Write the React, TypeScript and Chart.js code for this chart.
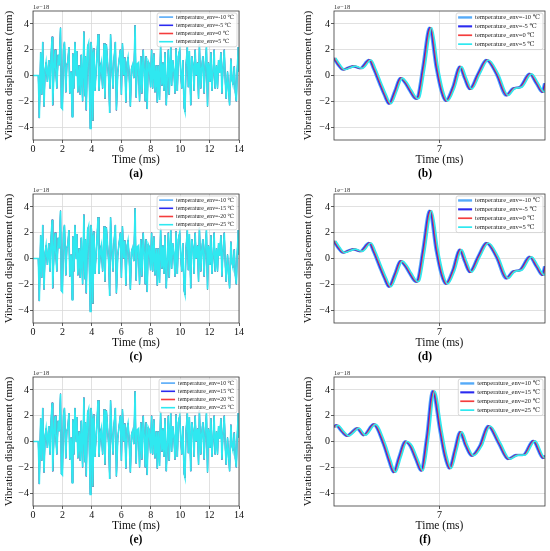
import { useEffect, useRef } from 'react';
import { Chart, registerables } from 'chart.js';

Chart.register(...registerables);

const FONT = '"Liberation Serif", "Times New Roman", "DejaVu Serif", serif';

// Full record, 0-14 ms (units of 1e-18 mm). The four temperature curves overlap here.
const longTime = [
  0, 0.36, 0.43, 0.52, 0.59, 0.66, 0.75, 0.82, 0.89, 0.98, 1.07, 1.16, 1.23, 1.3, 1.34, 1.43, 1.5, 1.56,
  1.62, 1.71, 1.78, 1.87, 1.93, 2.0, 2.07, 2.14, 2.23, 2.3, 2.37, 2.44, 2.5, 2.59, 2.66, 2.71, 2.78, 2.85,
  2.94, 2.98, 3.05, 3.14, 3.21, 3.28, 3.37, 3.46, 3.53, 3.57, 3.62, 3.71, 3.78, 3.85, 3.89, 3.94, 4.01,
  4.07, 4.14, 4.21, 4.28, 4.35, 4.42, 4.48, 4.58, 4.64, 4.73, 4.83, 4.89, 4.99, 5.08, 5.15, 5.21, 5.27,
  5.35, 5.44, 5.51, 5.6, 5.67, 5.76, 5.83, 5.94, 6.01, 6.08, 6.17, 6.24, 6.31, 6.4, 6.46, 6.53, 6.62,
  6.69, 6.76, 6.85, 6.94, 7.01, 7.08, 7.17, 7.24, 7.33, 7.4, 7.49, 7.56, 7.63, 7.69, 7.76, 7.83, 7.9,
  7.99, 8.06, 8.13, 8.22, 8.29, 8.38, 8.45, 8.51, 8.6, 8.67, 8.76, 8.83, 8.9, 8.97, 9.06, 9.13, 9.2,
  9.26, 9.36, 9.42, 9.49, 9.58, 9.65, 9.72, 9.81, 9.88, 9.97, 10.04, 10.11, 10.18, 10.27, 10.33, 10.4,
  10.49, 10.56, 10.63, 10.72, 10.79, 10.88, 10.95, 11.02, 11.09, 11.18, 11.25, 11.31, 11.4, 11.47,
  11.54, 11.63, 11.7, 11.79, 11.86, 11.93, 12.02, 12.09, 12.16, 12.25, 12.31, 12.38, 12.47, 12.54,
  12.61, 12.68, 12.77, 12.84, 12.91, 13.0, 13.07, 13.13, 13.22, 13.29, 13.36, 13.45, 13.52, 13.59,
  13.68, 13.75, 13.82, 13.88, 13.95, 14.0,
];
const longDisp = [
  0, 0, -3.3, 1.8, -1.5, 2.6, -2.4, 0.4, 1.0, -0.5, 1.2, -1.0, 1.6, 3.0, -2.3, 0.5, 2.0, 0.2,
  -1.0, 1.6, 0.8, 3.7, -2.5, -2.6, 2.0, 2.6, -1.3, 0.8, 1.1, 2.2, -1.4, 0.3, -3.2, 1.7, -1.0, 2.6,
  0.0, 1.9, -1.3, 0.8, -1.5, 1.6, -2.0, 3.4, -1.6, 1.5, -2.7, 2.2, 2.5, -1.8, -4.1, 2.6, 1.8,
  -3.5, 2.1, -1.2, 0.2, 1.6, 3.2, -1.2, 0.6, 1.0, -1.0, 2.5, -1.8, 2.4, 0.8, -0.4, -2.9, 3.2,
  0.8, -1.0, 1.3, 2.6, -2.7, 0.2, 1.0, 2.0, -1.5, 2.5, 0.0, 1.4, -2.1, 1.0, 1.4, 0.2, -2.4,
  0.5, 0.8, -0.2, 3.9, -1.7, 0.9, 1.0, -2.0, 1.5, -1.4, 2.0, 0.4, -2.0, 1.5, -2.6, 1.1, 0.9,
  -0.9, 2.0, -1.0, 1.7, -1.3, 0.8, -2.1, 0.8, -1.9, 2.3, -0.8, 1.0, -1.2, 1.8, -2.3, 0.0, 2.0,
  -1.5, 2.2, -0.8, 1.2, 0.3, -1.4, 2.1, -1.2, 1.5, 2.0, 0.2, -1.0, 1.2, -2.5, -2.8, 0.8,
  2.2, -0.9, 1.9, -2.3, 1.5, 0.8, -1.2, 2.0, 0.0, 1.0, -1.8, 2.4, -1.0, 0.6,
  1.5, -1.4, 0.8, 2.2, -2.4, 1.0, -0.5, 1.8, -1.2, 0.5, 2.0, -1.0, 0.8, -1.0,
  1.2, 0.2, 1.8, -1.4, 0.5, 2.0, -0.5, -1.8, 0.3, -1.0, -2.3, 1.3, -0.3, -0.7,
  0.7, -1.3, -2.0, 0.4, 2.2, 0.3,
];

// Close-up around 7 ms, panels (b) and (d)
const zoomTimeBD = [
  6.5, 6.52, 6.544, 6.57, 6.592, 6.626, 6.668, 6.69, 6.718, 6.74, 6.762, 6.79, 6.816, 6.84, 6.86, 6.89,
  6.9, 6.923, 6.955, 6.986, 7.01, 7.031, 7.065, 7.097, 7.12, 7.145, 7.184, 7.224, 7.271, 7.318, 7.35,
  7.382, 7.429, 7.46, 7.489, 7.5,
];
const zoomDispBD = [
  1.36, 0.85, 0.46, 0.6, 0.72, 0.56, 1.2, 0.5, -0.64, -1.5, -2.18, -1.2, -0.2, -0.6, -1.15, -1.8,
  -1.6, 0.64, 3.7, 0.64, -1.2, -1.97, -0.9, 0.69, -0.2, -1.05, 0.13, 1.2, 0.13, -1.54, -1.0,
  -0.9, 0.13, -0.6, -1.28, -0.6,
];

// Close-up around 7 ms, panel (f)
const zoomTimeF = [
  6.5, 6.512, 6.535, 6.563, 6.585, 6.61, 6.642, 6.689, 6.736, 6.76, 6.784, 6.81, 6.838, 6.862, 6.89,
  6.914, 6.941, 6.969, 7.004, 7.025, 7.048, 7.075, 7.098, 7.125, 7.154, 7.193, 7.232, 7.28, 7.327,
  7.366, 7.398, 7.445, 7.492, 7.5,
];
const zoomDispF = [
  1.13, 1.26, 0.85, 0.44, 0.7, 1.03, 0.49, 1.33, -0.2, -1.4, -2.38, -1.2, 0.0, -0.33, -1.4,
  -2.26, 0.31, 3.9, 0.82, -1.0, -2.08, -0.6, 0.74, -0.3, -1.1, -0.33, 1.2, -0.08, -1.36,
  -1.05, -1.05, 0.05, -1.28, -1.1,
];

// time lag of each temperature curve in the close-ups (ms)
const zoomLagMs = [-0.004, 0, 0.004, 0.008];
const longLagMs = [0, 0, 0, 0];

const labelsA = ['temperature_env=-10 ℃', 'temperature_env=-5 ℃', 'temperature_env=0 ℃', 'temperature_env=5 ℃'];
const labelsC = ['temperature_env=-10 ℃', 'temperature_env=-15 ℃', 'temperature_env=-20 ℃', 'temperature_env=-25 ℃'];
const labelsE = ['temperature_env=10 ℃', 'temperature_env=15 ℃', 'temperature_env=20 ℃', 'temperature_env=25 ℃'];

const longTicks = [0, 2, 4, 6, 8, 10, 12, 14];
const zoomTicks = [7];
const yTicks = [-4, -2, 0, 2, 4];

const seriesColors = ['#55aaf8', '#2a2af0', '#f43d3d', '#2fe8f0'];
const longWidths = [0.8, 0.8, 0.8, 1.6];
const zoomWidths = [2.4, 2.1, 1.7, 1.7];

const CELL_W = 275;
const CELL_H = 183;

interface PanelProps {
  row: number;
  col: number;
  caption: string;
  times: number[];
  disp: number[];
  lags: number[];
  labels: string[];
  xMin: number;
  xMax: number;
  xTicks: number[];
  widths: number[];
  smooth: boolean;
}

function Panel({ row, col, caption, times, disp, lags, labels, xMin, xMax, xTicks, widths, smooth }: PanelProps) {
  const canvasRef = useRef<HTMLCanvasElement>(null);

  useEffect(() => {
    if (!canvasRef.current) return;
    const left = col === 0;

    // frame, 1e-18 offset text, legend inside the axes and the (a)..(f) caption
    const decor = {
      id: 'panelDecor',
      afterDatasetsDraw(chart: any) {
        const { ctx, chartArea: a } = chart;
        ctx.save();
        ctx.strokeStyle = '#3a3a3a';
        ctx.lineWidth = 0.8;
        ctx.strokeRect(a.left, a.top, a.right - a.left, a.bottom - a.top);

        ctx.fillStyle = '#333';
        ctx.font = `6.5px ${FONT}`;
        ctx.textAlign = 'left';
        ctx.textBaseline = 'alphabetic';
        ctx.fillText('1e−18', a.left, a.top - 2);

        const fs = left ? 5.8 : 6.5;
        const rowH = left ? 8.2 : 8.9;
        ctx.font = `${fs}px ${FONT}`;
        const tw = Math.max(...labels.map((l) => ctx.measureText(l).width));
        const w = 19 + tw + 3;
        const h = rowH * 4 + 1;
        const bx = a.right - 2 - w;
        const by = a.top + 2;
        ctx.fillStyle = 'rgba(255,255,255,0.8)';
        ctx.beginPath();
        ctx.roundRect(bx, by, w, h, 2);
        ctx.fill();
        ctx.strokeStyle = '#cfcfcf';
        ctx.lineWidth = 0.8;
        ctx.stroke();
        chart.data.datasets.forEach((ds: any, i: number) => {
          const cy = by + rowH * 0.5 + i * rowH;
          ctx.strokeStyle = ds.borderColor;
          ctx.lineWidth = Math.max(ds.borderWidth, 1.6);
          ctx.beginPath();
          ctx.moveTo(bx + 2, cy);
          ctx.lineTo(bx + 16, cy);
          ctx.stroke();
          ctx.fillStyle = '#222';
          ctx.textBaseline = 'middle';
          ctx.fillText(ds.label, bx + 19, cy);
        });

        ctx.font = `bold 11.5px ${FONT}`;
        ctx.textAlign = 'center';
        ctx.textBaseline = 'middle';
        ctx.fillStyle = '#000';
        ctx.fillText(caption, left ? 136 : 150, 174);
        ctx.restore();
      },
    };

    const yWidth = left ? 33 : 35.6;
    const chart = new Chart(canvasRef.current, {
      type: 'line',
      data: {
        datasets: labels.map((label, i) => ({
          label,
          data: times.map((t, k) => ({ x: t + lags[i], y: disp[k] })),
          borderColor: seriesColors[i],
          borderWidth: widths[i],
          pointRadius: 0,
          tension: 0,
          cubicInterpolationMode: smooth ? 'monotone' : 'default',
          order: labels.length - 1 - i,
        })),
      },
      options: {
        responsive: false,
        animation: false,
        events: [],
        layout: { padding: { left: left ? 0 : 23.4, right: left ? 36 : 5, top: 11, bottom: 15 } },
        plugins: { legend: { display: false }, tooltip: { enabled: false } },
        scales: {
          x: {
            type: 'linear',
            min: xMin,
            max: xMax,
            afterBuildTicks: (s: any) => {
              s.ticks = xTicks.map((v) => ({ value: v }));
            },
            afterFit: (s: any) => {
              s.height = 28;
            },
            grid: { color: '#d9d9d9', lineWidth: 0.8, drawTicks: true, tickLength: 3, tickColor: '#333', tickWidth: 0.8 },
            border: { display: false },
            ticks: { font: { family: FONT, size: 10 }, color: '#111', padding: 0, maxRotation: 0, autoSkip: false },
            title: {
              display: true,
              text: 'Time (ms)',
              font: { family: FONT, size: 11.5 },
              color: '#111',
              padding: { top: 0, bottom: 1.1 },
            },
          },
          y: {
            min: -5,
            max: 5,
            afterBuildTicks: (s: any) => {
              s.ticks = yTicks.map((v) => ({ value: v }));
            },
            afterFit: (s: any) => {
              s.width = yWidth;
            },
            grid: { color: '#d9d9d9', lineWidth: 0.8, drawTicks: true, tickLength: 3, tickColor: '#333', tickWidth: 0.8 },
            border: { display: false },
            ticks: {
              font: { family: FONT, size: 10 },
              color: '#111',
              padding: 1,
              callback: (v: any) => String(v).replace('-', '−'),
            },
            title: {
              display: true,
              text: 'Vibration displacement (mm)',
              font: { family: FONT, size: 11 },
              color: '#111',
              padding: { top: 3, bottom: 0 },
            },
          },
        },
      },
      plugins: [decor],
    } as any);

    return () => {
      chart.destroy();
    };
  }, [row, col, caption, times, disp, lags, labels, xMin, xMax, xTicks, widths, smooth]);

  return (
    <canvas
      ref={canvasRef}
      width={CELL_W}
      height={CELL_H}
      style={{ position: 'absolute', left: col * CELL_W, top: row * CELL_H, display: 'block' }}
    />
  );
}

export default function App() {
  return (
    <div style={{ position: 'fixed', left: 0, top: 0, width: 550, height: 551, background: '#fff' }}>
      <Panel row={0} col={0} caption="(a)" times={longTime} disp={longDisp} lags={longLagMs} labels={labelsA}
        xMin={0} xMax={14} xTicks={longTicks} widths={longWidths} smooth={false} />
      <Panel row={0} col={1} caption="(b)" times={zoomTimeBD} disp={zoomDispBD} lags={zoomLagMs} labels={labelsA}
        xMin={6.5} xMax={7.5} xTicks={zoomTicks} widths={zoomWidths} smooth />
      <Panel row={1} col={0} caption="(c)" times={longTime} disp={longDisp} lags={longLagMs} labels={labelsC}
        xMin={0} xMax={14} xTicks={longTicks} widths={longWidths} smooth={false} />
      <Panel row={1} col={1} caption="(d)" times={zoomTimeBD} disp={zoomDispBD} lags={zoomLagMs} labels={labelsA}
        xMin={6.5} xMax={7.5} xTicks={zoomTicks} widths={zoomWidths} smooth />
      <Panel row={2} col={0} caption="(e)" times={longTime} disp={longDisp} lags={longLagMs} labels={labelsE}
        xMin={0} xMax={14} xTicks={longTicks} widths={longWidths} smooth={false} />
      <Panel row={2} col={1} caption="(f)" times={zoomTimeF} disp={zoomDispF} lags={zoomLagMs} labels={labelsE}
        xMin={6.5} xMax={7.5} xTicks={zoomTicks} widths={zoomWidths} smooth />
    </div>
  );
}
